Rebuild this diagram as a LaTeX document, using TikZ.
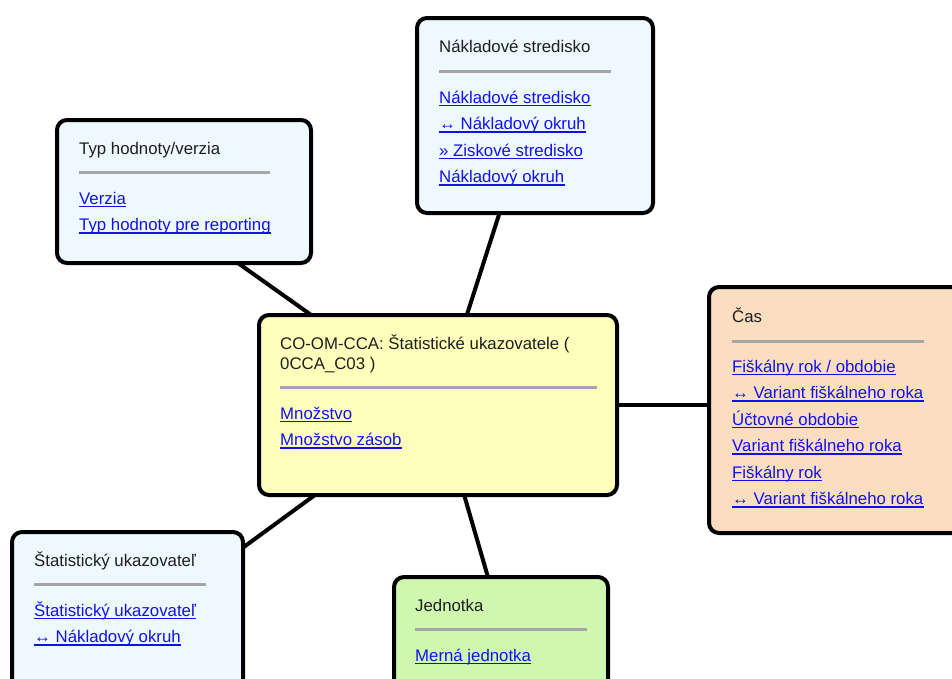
\documentclass[tikz,border=0pt]{standalone}
\usepackage{fontspec}
\setmainfont{Liberation Sans}
\usetikzlibrary{backgrounds}
\definecolor{linkblue}{RGB}{17,17,238}
\definecolor{titlegray}{RGB}{30,30,30}
\definecolor{rulegray}{RGB}{165,165,165}
\definecolor{paleblue}{RGB}{238,248,255}
\definecolor{paleyellow}{RGB}{255,255,187}
\definecolor{palepeach}{RGB}{251,222,191}
\definecolor{palegreen}{RGB}{207,247,176}
\newcommand{\linkstep}{26.5}
\newcommand{\boxfont}{\fontsize{16.8}{20}\selectfont}

\tikzset{
	card/.style={draw, line width=4pt, rounded corners=10pt, anchor=north west, inner sep=0pt, outer sep=0pt},
	ttl/.style={anchor=base west, inner sep=0pt, font=\boxfont, text=titlegray},
	lnk/.style={anchor=base west, inner sep=0pt, font=\boxfont, text=linkblue,
		append after command={([yshift=-2.6pt]\tikzlastnode.base west) edge[draw=linkblue, line width=1.4pt] ([yshift=-2.6pt]\tikzlastnode.base east)}},
	sep/.style={draw=rulegray, line width=3pt},
	conn/.style={line width=4pt}
}

\begin{document}
\begin{tikzpicture}[x=1pt,y=-1pt]
	\useasboundingbox (0,0) rectangle (952,678);
	
	\node[card, fill=paleyellow, minimum width=358pt, minimum height=180pt] (ctr) at (259,315) {};
	\node[ttl, align=left] (ctr-t) at (280,369) {CO-OM-CCA: Štatistické ukazovatele (\\0CCA\_C03 )};
	\draw[sep] (280,387) -- (597,387);
	\foreach \t [count=\i] in {Množstvo,Množstvo zásob}
		\node[lnk] (ctr-\i) at (280,392.5+\linkstep*\i) {\t};
	
	\node[card, fill=paleblue, minimum width=236pt, minimum height=195pt] (nak) at (417,18) {};
	\node[ttl] (nak-t) at (439,52) {Nákladové stredisko};
	\draw[sep] (439,71) -- (611,71);
	\foreach \t [count=\i] in {Nákladové stredisko,↔ Nákladový okruh,» Ziskové stredisko,Nákladový okruh}
		\node[lnk] (nak-\i) at (439,76.5+\linkstep*\i) {\t};
	
	\node[card, fill=paleblue, minimum width=254pt, minimum height=143pt] (typ) at (57,120) {};
	\node[ttl] (typ-t) at (79,154) {Typ hodnoty/verzia};
	\draw[sep] (79,172) -- (270,172);
	\foreach \t [count=\i] in {Verzia,Typ hodnoty pre reporting}
		\node[lnk] (typ-\i) at (79,177.5+\linkstep*\i) {\t};
	
	\node[card, fill=palepeach, minimum width=262pt, minimum height=246pt] (cas) at (709,287) {};
	\node[ttl] (cas-t) at (732,322) {Čas};
	\draw[sep] (732,341) -- (924,341);
	\foreach \t [count=\i] in {Fiškálny rok / obdobie,↔ Variant fiškálneho roka,Účtovné obdobie,Variant fiškálneho roka,Fiškálny rok,↔ Variant fiškálneho roka}
		\node[lnk] (cas-\i) at (732,345.5+\linkstep*\i) {\t};
	
	\node[card, fill=paleblue, minimum width=231pt, minimum height=170pt] (stat) at (12,532) {};
	\node[ttl] (stat-t) at (34,566) {Štatistický ukazovateľ};
	\draw[sep] (34,584.5) -- (206,584.5);
	\foreach \t [count=\i] in {Štatistický ukazovateľ,↔ Nákladový okruh}
		\node[lnk] (stat-\i) at (34,589.5+\linkstep*\i) {\t};
	
	\node[card, fill=palegreen, minimum width=214pt, minimum height=123pt] (jed) at (394,577) {};
	\node[ttl] (jed-t) at (415,611) {Jednotka};
	\draw[sep] (415,629.5) -- (587,629.5);
	\node[lnk] (jed-1) at (415,661) {Merná jednotka};
	
	\begin{scope}[on background layer]
		\draw[conn] (ctr.center) -- (nak.250);
		\draw[conn] (ctr.center) -- (typ.307);
		\draw[conn] (ctr.center) -- (cas.west |- ctr.center);
		\draw[conn] (ctr.center) -- (stat.31);
		\draw[conn] (ctr.center) -- (jed.102);
	\end{scope}
	
\end{tikzpicture}
\end{document}
